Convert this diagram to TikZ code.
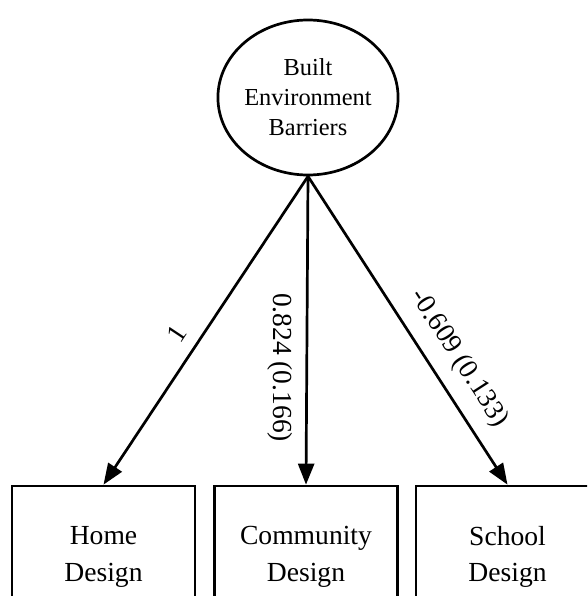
\documentclass[tikz,border=0pt]{standalone}
\usepackage{fontspec}
\setmainfont{Liberation Serif}
\usetikzlibrary{arrows.meta,shapes.geometric}

\begin{document}
\begin{tikzpicture}[x=1pt, y=-1pt, line width=2.7pt,
  latent/.style={draw, ellipse, minimum width=158pt, minimum height=155pt,
    inner sep=0pt, align=center, font=\fontsize{24.4}{30}\selectfont},
  observed/.style={draw, rectangle, minimum width=183pt, minimum height=142pt,
    inner sep=0pt, align=center, font=\fontsize{27.6}{36.5}\selectfont},
  loading/.style={-{Triangle[length=21pt, width=16pt]}},
  coef/.style={font=\fontsize{27.5}{30}\selectfont}]

\useasboundingbox (0,0) rectangle (587,596);
\clip (0,0) rectangle (587,596);

% latent factor
\node[latent] (bei) at (308,97.5) {Built\\Environment\\Barriers};

% indicators
\node[observed] (home) at (103.5,557) {Home\\Design};
\node[observed] (comm) at (306,557) {Community\\Design};
\node[observed] (school) at (507.5,557) {School\\Design};

% factor loadings
\draw[loading] (bei.south) -- (home.north)
  node[coef, pos=0.55, sloped, above, inner sep=12pt] {1};
\draw[loading] (bei.south) -- (comm.north)
  node[coef, pos=0.62, rotate=-90, anchor=north, inner xsep=0pt, inner ysep=13pt] {0.824 (0.166)};
\draw[loading] (bei.south) -- (school.north)
  node[coef, pos=0.64, sloped, above, inner sep=14pt] {-0.609 (0.133)};
\end{tikzpicture}
\end{document}
